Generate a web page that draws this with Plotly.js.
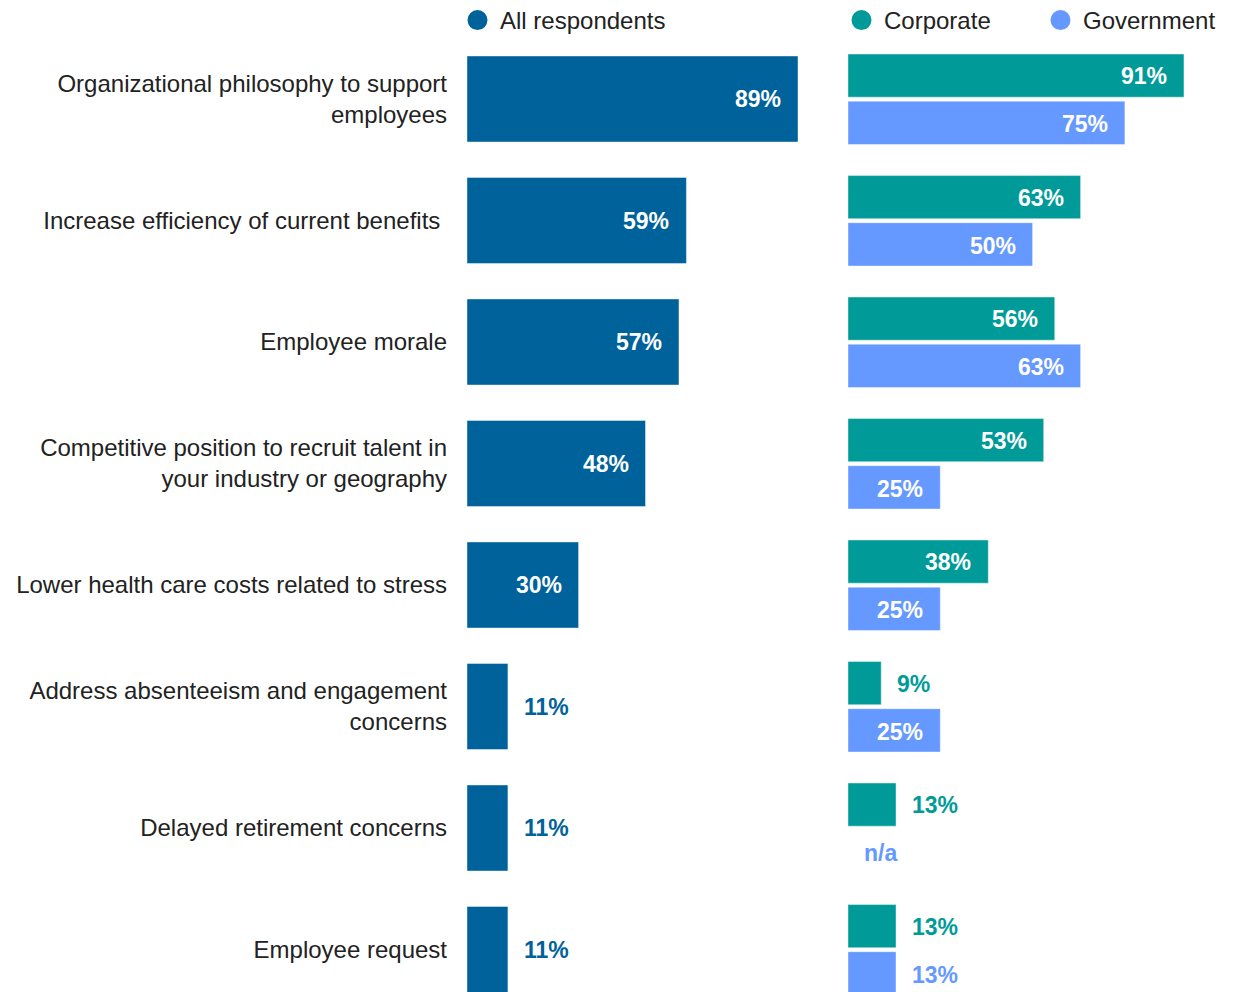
<!DOCTYPE html>
<html>
<head>
<meta charset="utf-8">
<script src="https://cdn.plot.ly/plotly-3.0.1.min.js"></script>
<style>
  html, body { margin: 0; padding: 0; background: #ffffff; }
  #chart { width: 1239px; height: 992px; }
</style>
</head>
<body>
<div id="chart"></div>
<script>
// ---- data ----
const categories = [
  "Organizational philosophy to support<br>employees",
  "Increase efficiency of current benefits\u00a0",
  "Employee morale",
  "Competitive position to recruit talent in<br>your industry or geography",
  "Lower health care costs related to stress",
  "Address absenteeism and engagement<br>concerns",
  "Delayed retirement concerns",
  "Employee request"
];
const allRespondents = [89, 59, 57, 48, 30, 11, 11, 11];
const corporate      = [91, 63, 56, 53, 38, 9, 13, 13];
const government     = [75, 50, 63, 25, 25, 25, null, 13];
const seriesNames = ["All respondents", "Corporate", "Government"];

// ---- styles ----
const C_ALL = "#00629b";
const C_CORP = "#009b98";
const C_GOV = "#6699ff";
const FONT = "Liberation Sans, Arial, sans-serif";
const W = 1239, H = 992;
const INSIDE_MIN = 20;

const barLine = {color: "rgba(255,255,255,0.7)", width: 0.6};

const traces = [
  {
    type: "bar", orientation: "h", name: seriesNames[0],
    y: categories, x: allRespondents, xaxis: "x", yaxis: "y",
    marker: {color: C_ALL, line: barLine},
    width: 0.708, offset: -0.354,
    showlegend: false
  },
  {
    type: "bar", orientation: "h", name: seriesNames[1],
    y: categories, x: corporate, xaxis: "x2", yaxis: "y",
    marker: {color: C_CORP, line: barLine},
    width: 0.355, offset: -0.37,
    showlegend: false
  },
  {
    type: "bar", orientation: "h", name: seriesNames[2],
    y: categories, x: government, xaxis: "x2", yaxis: "y",
    marker: {color: C_GOV, line: barLine},
    width: 0.357, offset: 0.018,
    showlegend: false
  },
  // legend entries (circle markers)
  {type: "scatter", mode: "markers", name: seriesNames[0], x: [null], y: [null],
   xaxis: "x", yaxis: "y", marker: {color: C_ALL, size: 16, symbol: "circle", line: {color: C_ALL, width: 4}}, legend: "legend"},
  {type: "scatter", mode: "markers", name: seriesNames[1], x: [null], y: [null],
   xaxis: "x2", yaxis: "y", marker: {color: C_CORP, size: 16, symbol: "circle", line: {color: C_CORP, width: 4}}, legend: "legend2"},
  {type: "scatter", mode: "markers", name: seriesNames[2], x: [null], y: [null],
   xaxis: "x2", yaxis: "y", marker: {color: C_GOV, size: 16, symbol: "circle", line: {color: C_GOV, width: 4}}, legend: "legend2"}
];

// ---- value labels ----
const annotations = [];
function addLabels(values, xref, color, yshift) {
  values.forEach((v, i) => {
    const base = {
      xref: xref, yref: "y", y: categories[i], yshift: yshift,
      showarrow: false, yanchor: "middle",
      font: {family: FONT, size: 23, weight: "bold"}
    };
    if (v === null) {
      annotations.push(Object.assign(base, {x: 0, xanchor: "left", xshift: 14, text: "n/a",
        font: Object.assign(base.font, {color: color})}));
    } else if (v >= INSIDE_MIN) {
      annotations.push(Object.assign(base, {x: v, xanchor: "right", xshift: -15, text: v + "%",
        font: Object.assign(base.font, {color: "#ffffff"})}));
    } else {
      annotations.push(Object.assign(base, {x: v, xanchor: "left", xshift: 14, text: v + "%",
        font: Object.assign(base.font, {color: color})}));
    }
  });
}
addLabels(allRespondents, "x", C_ALL, 0);
addLabels(corporate, "x2", C_CORP, 23);
addLabels(government, "x2", C_GOV, -25);

const rowPx = 121.5, firstRowPx = 99;

const layout = {
  width: W, height: H,
  margin: {l: 0, r: 0, t: 0, b: 0, pad: 0, autoexpand: false},
  paper_bgcolor: "#ffffff", plot_bgcolor: "#ffffff",
  font: {family: FONT, size: 24, color: "#222222"},
  barmode: "overlay",
  xaxis: {
    domain: [467 / W, 840 / W], range: [0, 373 / 3.719],
    showgrid: false, zeroline: false, showticklabels: false, showline: false, fixedrange: true
  },
  xaxis2: {
    domain: [848 / W, 1], range: [0, 391 / 3.692], anchor: "y",
    showgrid: false, zeroline: false, showticklabels: false, showline: false, fixedrange: true
  },
  yaxis: {
    type: "category",
    range: [(H - firstRowPx) / rowPx, -firstRowPx / rowPx],
    showgrid: false, zeroline: false, showline: false,
    ticks: "", ticklabelstandoff: 19,
    tickfont: {family: FONT, size: 24, color: "#222222"},
    fixedrange: true
  },
  legend: {
    orientation: "h", x: 455 / W, xanchor: "left", y: 1 + 2 / H, yanchor: "top",
    font: {family: FONT, size: 24, color: "#222222"},
    bgcolor: "rgba(0,0,0,0)", itemwidth: 35, borderwidth: 0
  },
  legend2: {
    orientation: "h", x: 839 / W, xanchor: "left", y: 1 + 2 / H, yanchor: "top",
    font: {family: FONT, size: 24, color: "#222222"},
    bgcolor: "rgba(0,0,0,0)", itemwidth: 35, borderwidth: 0, entrywidth: 149
  },
  annotations: annotations,
  showlegend: true
};

Plotly.newPlot("chart", traces, layout, {displayModeBar: false, staticPlot: true});
</script>
</body>
</html>
